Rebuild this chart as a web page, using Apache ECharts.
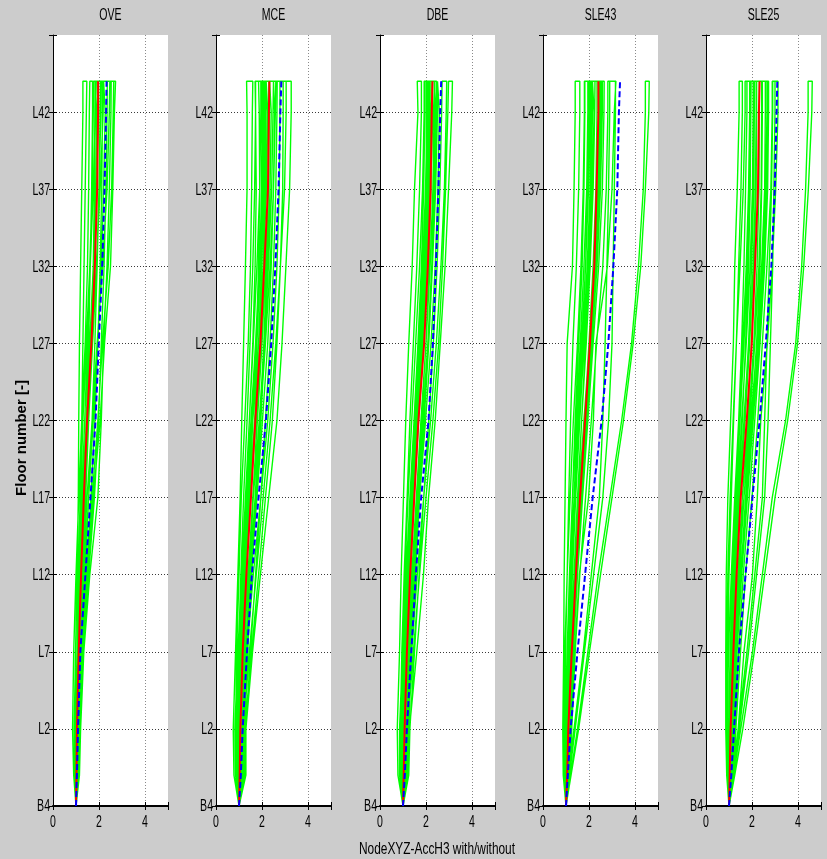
<!DOCTYPE html>
<html><head><meta charset="utf-8">
<script src="https://cdn.jsdelivr.net/npm/echarts@6/dist/echarts.min.js"></script>
<style>html,body{margin:0;padding:0;background:#cccccc}#c{width:827px;height:859px}</style>
</head><body><div id="c"></div><script>
// ---------- data ----------
const panelTitles = ['OVE', 'MCE', 'DBE', 'SLE43', 'SLE25'];
const yTickLabels = ['B4', 'L2', 'L7', 'L12', 'L17', 'L22', 'L27', 'L32', 'L37', 'L42'];
const yTickValues = [0, 5, 10, 15, 20, 25, 30, 35, 40, 45];
const xTickLabels = ['0', '2', '4'];
// floor index (0 = B4, 5 = L2, ... 47 = roof) at which the curves are sampled
const floorLevels = [0, 2, 5, 10, 15, 20, 25, 30, 35, 40, 45, 47];

const greenOVE = [
  [1.0,0.95,0.92,0.98,1.05,1.1,1.12,1.15,1.2,1.25,1.3,1.3],
  [1.0,1.0,1.0,1.05,1.1,1.18,1.25,1.3,1.35,1.4,1.45,1.47],
  [1.0,0.9,0.85,0.9,1.0,1.12,1.25,1.4,1.5,1.55,1.58,1.6],
  [1.0,1.05,1.08,1.15,1.25,1.35,1.45,1.55,1.62,1.68,1.72,1.72],
  [1.0,1.02,1.05,1.12,1.2,1.32,1.5,1.65,1.75,1.8,1.82,1.83],
  [1.0,0.98,1.0,1.1,1.22,1.38,1.55,1.7,1.8,1.86,1.9,1.9],
  [1.0,1.05,1.1,1.2,1.3,1.42,1.55,1.68,1.8,1.9,1.95,1.96],
  [1.0,1.0,1.02,1.1,1.18,1.3,1.45,1.6,1.75,1.88,1.98,2.0],
  [1.0,1.08,1.12,1.25,1.4,1.55,1.7,1.82,1.92,2.0,2.05,2.06],
  [1.0,1.1,1.18,1.3,1.45,1.65,1.82,1.95,2.05,2.12,2.15,2.16],
  [1.0,0.95,0.98,1.08,1.2,1.35,1.52,1.7,1.88,2.05,2.18,2.2],
  [1.0,1.05,1.1,1.2,1.35,1.55,1.75,1.95,2.1,2.2,2.27,2.28],
  [1.0,1.12,1.2,1.32,1.55,1.8,1.98,2.1,2.22,2.3,2.35,2.36],
  [1.0,1.02,1.08,1.18,1.3,1.48,1.7,1.92,2.15,2.35,2.45,2.47],
  [1.0,1.15,1.2,1.34,1.6,1.95,2.1,2.2,2.35,2.45,2.52,2.53],
  [1.0,1.05,1.1,1.25,1.45,1.7,1.95,2.15,2.4,2.55,2.62,2.64],
  [1.0,1.1,1.15,1.3,1.5,1.75,2.05,2.24,2.5,2.6,2.67,2.72],
  [1.0,0.92,0.95,1.05,1.12,1.2,1.3,1.45,1.6,1.7,1.75,1.76],
  [1.0,1.0,1.05,1.15,1.28,1.4,1.55,1.72,1.9,2.0,2.08,2.1],
  [1.0,0.97,1.0,1.08,1.15,1.25,1.38,1.5,1.62,1.75,1.85,1.88]
];
const greenMCE = [
  [1.0,0.78,0.75,0.85,0.95,1.05,1.12,1.2,1.28,1.35,1.35,1.33],
  [1.0,0.9,0.85,0.9,1.0,1.1,1.25,1.4,1.5,1.55,1.58,1.6],
  [1.0,1.05,1.0,1.05,1.15,1.3,1.45,1.6,1.7,1.75,1.72,1.7],
  [1.0,1.1,1.1,1.2,1.32,1.45,1.6,1.75,1.85,1.9,1.88,1.85],
  [1.0,0.95,0.95,1.05,1.2,1.38,1.55,1.75,1.9,1.98,2.0,2.0],
  [1.0,1.0,1.02,1.12,1.28,1.48,1.68,1.85,1.98,2.08,2.1,2.1],
  [1.0,1.15,1.2,1.3,1.45,1.62,1.78,1.95,2.08,2.15,2.18,2.18],
  [1.0,0.85,0.82,0.95,1.12,1.35,1.6,1.85,2.05,2.2,2.25,2.25],
  [1.0,1.05,1.1,1.22,1.4,1.6,1.8,2.0,2.15,2.28,2.32,2.33],
  [1.0,1.2,1.25,1.38,1.55,1.75,1.95,2.12,2.25,2.35,2.4,2.4],
  [1.0,1.0,1.05,1.18,1.38,1.62,1.88,2.1,2.28,2.42,2.48,2.5],
  [1.0,1.1,1.15,1.3,1.52,1.78,2.02,2.25,2.4,2.5,2.55,2.56],
  [1.0,1.25,1.3,1.5,1.72,1.95,2.15,2.35,2.5,2.6,2.65,2.66],
  [1.0,1.05,1.12,1.35,1.62,1.95,2.25,2.48,2.65,2.75,2.78,2.78],
  [1.0,1.15,1.25,1.55,1.85,2.15,2.45,2.65,2.8,2.9,2.92,2.92],
  [1.0,1.3,1.3,1.59,1.93,2.29,2.65,2.87,3.04,3.2,3.27,3.27],
  [1.0,1.1,1.2,1.45,1.75,2.05,2.35,2.6,2.8,2.98,3.05,3.05],
  [1.0,0.98,1.0,1.1,1.25,1.42,1.6,1.78,1.92,2.02,2.05,2.05],
  [1.0,0.92,0.9,1.0,1.12,1.28,1.45,1.62,1.78,1.9,1.95,1.95],
  [1.0,1.02,1.05,1.15,1.3,1.5,1.72,1.92,2.05,2.12,2.15,2.15],
  [1.0,0.88,0.88,0.98,1.08,1.2,1.35,1.48,1.6,1.68,1.72,1.72],
  [1.0,1.08,1.12,1.28,1.48,1.7,1.92,2.15,2.35,2.5,2.58,2.6],
  [1.0,0.95,0.95,1.02,1.15,1.32,1.52,1.72,1.88,2.0,2.02,2.02],
  [1.0,1.12,1.18,1.32,1.5,1.7,1.9,2.08,2.2,2.28,2.3,2.3]
];
const greenDBE = [
  [1.0,0.78,0.75,0.85,0.92,1.02,1.12,1.25,1.4,1.5,1.65,1.62],
  [1.0,0.9,0.88,0.95,1.05,1.18,1.3,1.45,1.6,1.72,1.8,1.8],
  [1.0,1.05,1.02,1.08,1.18,1.32,1.48,1.65,1.8,1.9,1.95,1.95],
  [1.0,1.1,1.12,1.2,1.32,1.48,1.65,1.82,1.95,2.05,2.08,2.08],
  [1.0,0.95,0.97,1.08,1.22,1.4,1.6,1.8,1.98,2.1,2.15,2.15],
  [1.0,1.0,1.05,1.15,1.3,1.48,1.68,1.9,2.05,2.15,2.2,2.2],
  [1.0,1.15,1.2,1.3,1.45,1.62,1.8,2.0,2.12,2.22,2.25,2.26],
  [1.0,0.85,0.85,0.98,1.12,1.32,1.55,1.8,2.02,2.2,2.3,2.3],
  [1.0,1.05,1.1,1.22,1.38,1.58,1.78,2.0,2.18,2.3,2.35,2.36],
  [1.0,1.2,1.25,1.38,1.55,1.72,1.92,2.12,2.28,2.38,2.42,2.42],
  [1.0,1.0,1.05,1.2,1.38,1.6,1.85,2.08,2.28,2.42,2.5,2.5],
  [1.0,1.1,1.15,1.3,1.5,1.72,1.98,2.22,2.4,2.52,2.58,2.58],
  [1.0,1.25,1.3,1.5,1.7,1.9,2.12,2.32,2.48,2.6,2.68,2.7],
  [1.0,1.05,1.15,1.38,1.62,1.9,2.2,2.45,2.65,2.8,2.88,2.9],
  [1.0,1.15,1.28,1.6,1.89,2.11,2.4,2.62,2.83,2.98,3.12,3.15],
  [1.0,1.12,1.2,1.45,1.72,2.0,2.3,2.55,2.72,2.85,2.95,2.98],
  [1.0,0.98,1.0,1.1,1.22,1.38,1.55,1.75,1.92,2.05,2.12,2.12],
  [1.0,0.92,0.92,1.02,1.15,1.3,1.48,1.68,1.85,1.98,2.05,2.05],
  [1.0,1.02,1.06,1.15,1.28,1.45,1.62,1.85,2.0,2.12,2.18,2.18],
  [1.0,0.88,0.9,0.98,1.08,1.22,1.38,1.55,1.72,1.85,1.92,1.92],
  [1.0,1.08,1.12,1.25,1.42,1.62,1.85,2.08,2.25,2.38,2.45,2.46],
  [1.0,0.95,0.98,1.05,1.18,1.35,1.52,1.72,1.88,2.0,2.02,2.02],
  [1.0,1.12,1.18,1.32,1.48,1.68,1.88,2.1,2.25,2.35,2.38,2.38],
  [1.0,1.0,1.02,1.12,1.25,1.42,1.62,1.82,2.0,2.15,2.25,2.28]
];
const greenSLE43 = [
  [1.0,0.88,0.86,0.9,0.92,0.96,1.0,1.05,1.28,1.35,1.4,1.4],
  [1.0,0.95,0.92,0.98,1.05,1.12,1.2,1.3,1.45,1.55,1.6,1.6],
  [1.0,1.05,1.05,1.1,1.18,1.28,1.4,1.55,1.7,1.78,1.82,1.82],
  [1.0,1.0,1.02,1.12,1.25,1.4,1.55,1.7,1.85,1.95,2.0,2.0],
  [1.0,1.1,1.15,1.25,1.38,1.52,1.68,1.85,2.0,2.1,2.15,2.15],
  [1.0,0.92,0.95,1.05,1.2,1.38,1.58,1.8,2.0,2.15,2.22,2.22],
  [1.0,1.05,1.1,1.22,1.4,1.6,1.8,2.0,2.18,2.3,2.35,2.35],
  [1.0,1.15,1.2,1.32,1.48,1.65,1.85,2.05,2.25,2.38,2.45,2.45],
  [1.0,1.0,1.05,1.18,1.35,1.55,1.78,2.02,2.28,2.45,2.52,2.52],
  [1.0,1.08,1.15,1.3,1.5,1.72,1.95,2.18,2.42,2.58,2.65,2.66],
  [1.0,1.2,1.25,1.4,1.6,1.85,2.1,2.33,2.6,2.75,2.82,2.82],
  [1.0,1.12,1.2,1.38,1.58,1.98,2.19,2.3,2.8,3.0,3.1,3.17],
  [1.0,0.9,0.9,0.95,1.05,1.18,1.32,1.5,1.65,1.75,1.8,1.8],
  [1.0,0.98,1.0,1.08,1.2,1.35,1.5,1.68,1.85,1.98,2.05,2.05],
  [1.0,1.02,1.08,1.2,1.35,1.5,1.68,1.88,2.05,2.18,2.25,2.26],
  [1.0,1.05,1.08,1.15,1.28,1.42,1.6,1.78,1.95,2.08,2.12,2.12],
  [1.0,0.95,0.98,1.05,1.15,1.28,1.45,1.62,1.78,1.9,1.95,1.95],
  [1.0,1.1,1.18,1.32,1.5,1.7,1.92,2.12,2.35,2.5,2.58,2.58],
  [1.0,1.0,1.0,1.1,1.22,1.38,1.55,1.75,1.92,2.05,2.1,2.1],
  [1.0,1.05,1.12,1.28,1.45,1.65,1.88,2.1,2.3,2.42,2.48,2.48],
  [1.0,1.2,1.5,1.95,2.4,2.91,3.42,3.85,4.15,4.36,4.45,4.45],
  [1.0,1.22,1.55,2.02,2.5,3.0,3.5,3.92,4.25,4.45,4.6,4.62],
  [1.0,1.15,1.4,1.8,2.2,2.6,2.85,3.0,3.05,3.1,3.15,3.15],
  [1.0,1.12,1.35,1.75,2.1,2.45,2.6,2.7,2.78,2.85,2.9,2.9]
];
const greenSLE25 = [
  [1.0,0.9,0.86,0.86,0.88,0.95,1.07,1.19,1.25,1.36,1.44,1.44],
  [1.0,0.95,0.9,0.95,1.0,1.1,1.2,1.32,1.42,1.52,1.58,1.58],
  [1.0,1.02,1.0,1.05,1.15,1.28,1.42,1.55,1.65,1.72,1.78,1.78],
  [1.0,1.05,1.08,1.15,1.25,1.4,1.58,1.72,1.85,1.92,1.95,1.95],
  [1.0,0.98,1.02,1.12,1.28,1.45,1.65,1.85,1.98,2.08,2.1,2.1],
  [1.0,1.1,1.15,1.25,1.4,1.58,1.8,1.98,2.1,2.18,2.2,2.2],
  [1.0,1.05,1.1,1.22,1.38,1.58,1.85,2.08,2.22,2.3,2.32,2.32],
  [1.0,1.12,1.2,1.35,1.52,1.72,1.98,2.2,2.35,2.42,2.45,2.45],
  [1.0,1.0,1.05,1.2,1.4,1.65,1.95,2.22,2.42,2.55,2.58,2.58],
  [1.0,1.15,1.25,1.42,1.62,1.88,2.12,2.35,2.55,2.68,2.72,2.72],
  [1.0,1.2,1.3,1.5,1.72,2.0,2.25,2.45,2.65,2.82,2.88,2.88],
  [1.0,1.25,1.4,1.65,2.02,2.23,2.38,2.67,2.88,3.03,3.13,3.13],
  [1.0,0.92,0.88,0.9,0.95,1.05,1.18,1.32,1.48,1.62,1.7,1.7],
  [1.0,0.98,0.98,1.05,1.15,1.3,1.48,1.65,1.8,1.9,1.95,1.96],
  [1.0,1.02,1.05,1.15,1.3,1.48,1.7,1.9,2.05,2.15,2.18,2.18],
  [1.0,1.08,1.12,1.28,1.45,1.65,1.9,2.12,2.3,2.4,2.42,2.42],
  [1.0,0.95,0.92,0.98,1.1,1.25,1.42,1.6,1.75,1.85,1.9,1.9],
  [1.0,1.05,1.12,1.3,1.5,1.75,2.02,2.28,2.48,2.6,2.65,2.65],
  [1.0,1.0,1.0,1.08,1.2,1.35,1.55,1.75,1.92,2.02,2.05,2.05],
  [1.0,1.1,1.18,1.35,1.55,1.8,2.05,2.3,2.5,2.62,2.68,2.68],
  [1.0,1.2,1.51,2.02,2.45,2.88,3.46,3.9,4.16,4.33,4.44,4.44],
  [1.0,1.25,1.6,2.1,2.55,3.0,3.55,3.98,4.25,4.45,4.6,4.62],
  [1.0,1.18,1.45,1.85,2.2,2.55,2.7,2.8,2.9,2.95,3.0,3.0],
  [1.0,1.15,1.4,1.78,2.12,2.45,2.55,2.65,2.75,2.85,2.9,2.9]
];
// red: median, blue dashed: upper statistic
const redOVE   = [1.0,1.02,1.04,1.12,1.22,1.34,1.48,1.67,1.82,1.92,1.96,1.96];
const blueOVE  = [1.0,1.04,1.09,1.19,1.41,1.63,1.85,1.99,2.14,2.24,2.31,2.33];
const redMCE   = [1.0,1.03,1.06,1.16,1.32,1.52,1.71,1.93,2.1,2.26,2.3,2.32];
const blueMCE  = [1.0,1.08,1.16,1.35,1.56,1.85,2.17,2.4,2.58,2.72,2.8,2.84];
const redDBE   = [1.0,1.03,1.07,1.17,1.31,1.49,1.67,1.92,2.08,2.2,2.25,2.28];
const blueDBE  = [1.0,1.08,1.17,1.36,1.56,1.79,2.11,2.3,2.43,2.54,2.62,2.66];
const redSLE43 = [1.0,1.05,1.1,1.25,1.43,1.61,1.83,2.04,2.23,2.33,2.41,2.41];
const blueSLE43= [1.0,1.08,1.2,1.5,1.83,2.16,2.55,2.84,3.06,3.23,3.3,3.35];
const redSLE25 = [1.0,1.03,1.07,1.19,1.33,1.51,1.77,1.99,2.13,2.26,2.30,2.33];
const blueSLE25= [1.0,1.1,1.22,1.43,1.72,2.02,2.33,2.6,2.84,2.99,3.07,3.1];

const greenSets = [greenOVE, greenMCE, greenDBE, greenSLE43, greenSLE25];
const redSets = [redOVE, redMCE, redDBE, redSLE43, redSLE25];
const blueSets = [blueOVE, blueMCE, blueDBE, blueSLE43, blueSLE25];

// ---------- chart ----------
const SANS = "'Liberation Sans', Arial, sans-serif";
const NARROW = 0.66; // horizontal squeeze to mimic the condensed lettering
const lefts = [53, 216, 380, 543, 706];
const W = 115, TOP = 35, H = 771;

function toPts(vals) { return vals.map((v, k) => [v, floorLevels[k]]); }
function zigzag(lines) {
  const out = [];
  lines.forEach((ln, i) => {
    const pts = toPts(ln);
    if (i % 2 === 1) pts.reverse();
    out.push(...pts);
  });
  return out;
}

const grid = [], xAxis = [], yAxis = [], series = [];
for (let i = 0; i < 5; i++) {
  grid.push({ left: lefts[i], top: TOP, width: W, height: H, containLabel: false,
    show: true, backgroundColor: '#ffffff', borderWidth: 0 });
  xAxis.push({
    type: 'value', gridIndex: i, min: 0, max: 5, interval: 2, position: 'bottom',
    axisLine: { show: true, onZero: false, lineStyle: { color: '#000', width: 2 } },
    axisTick: { show: true, inside: true, length: 4, lineStyle: { color: '#000' } },
    axisLabel: { show: false },
    splitLine: { show: true, showMinLine: false, showMaxLine: false,
      lineStyle: { color: '#8a8a8a', type: [1, 2], width: 1 } }
  });
  xAxis.push({
    type: 'value', gridIndex: i, min: 0, max: 5, interval: 2, position: 'top',
    axisLine: { show: false }, axisLabel: { show: false }, splitLine: { show: false },
    axisTick: { show: true, inside: true, length: 4, lineStyle: { color: '#000' } }
  });
  yAxis.push({
    type: 'value', gridIndex: i, min: 0, max: 50, interval: 5, position: 'left',
    axisLine: { show: true, onZero: false, lineStyle: { color: '#000', width: 1 } },
    axisTick: { show: true, inside: true, length: 4, lineStyle: { color: '#000' } },
    axisLabel: { show: false },
    splitLine: { show: true, showMinLine: false, showMaxLine: false,
      lineStyle: { color: '#3a3a3a', type: [1, 2], width: 1 } }
  });
  yAxis.push({
    type: 'value', gridIndex: i, min: 0, max: 50, interval: 5, position: 'right',
    axisLine: { show: false }, axisLabel: { show: false }, splitLine: { show: false },
    axisTick: { show: true, inside: true, length: 4, lineStyle: { color: '#000' } }
  });
  const xi = i * 2, yi = i * 2;
  series.push({
    type: 'line', xAxisIndex: xi, yAxisIndex: yi, data: zigzag(greenSets[i]),
    showSymbol: false, silent: true, animation: false,
    lineStyle: { color: '#00ff00', width: 1.4 }
  });
  series.push({
    type: 'line', xAxisIndex: xi, yAxisIndex: yi, data: toPts(redSets[i]),
    showSymbol: false, silent: true, animation: false,
    lineStyle: { color: '#ff0000', width: 2 }
  });
  series.push({
    type: 'line', xAxisIndex: xi, yAxisIndex: yi, data: toPts(blueSets[i]),
    showSymbol: false, silent: true, animation: false,
    lineStyle: { color: '#0000ff', width: 2, type: [6, 3] }
  });
}

const chart = echarts.init(document.getElementById('c'), null, { renderer: 'canvas' });
chart.setOption({ backgroundColor: '#cccccc', animation: false, grid, xAxis, yAxis, series });

// ---------- text (condensed lettering, positioned through the axes) ----------
function txt(x, y, text, size, align, scale, extra) {
  return Object.assign({
    type: 'text', x, y, scaleX: scale, silent: true,
    style: { text, fill: '#000', font: size + 'px ' + SANS, align, verticalAlign: 'middle' }
  }, extra || {});
}
const graphic = [];
for (let i = 0; i < 5; i++) {
  const f = { xAxisIndex: i * 2, yAxisIndex: i * 2 };
  yTickValues.forEach((v, k) => {
    const p = chart.convertToPixel(f, [0, v]);
    graphic.push(txt(p[0] - 3, p[1] + 1, yTickLabels[k], 16, 'right', NARROW));
  });
  xTickLabels.forEach((lab) => {
    const p = chart.convertToPixel(f, [Number(lab), 0]);
    graphic.push(txt(p[0], p[1] + 16, lab, 17, 'center', 0.62));
  });
  const pl = chart.convertToPixel(f, [0, 50]), pr = chart.convertToPixel(f, [5, 50]);
  graphic.push(txt((pl[0] + pr[0]) / 2, pl[1] - 19, panelTitles[i], 16, 'center', NARROW));
}
graphic.push(txt(437, 849, 'NodeXYZ-AccH3 with/without', 17, 'center', 0.7));
graphic.push({
  type: 'text', x: 22, y: 438, rotation: Math.PI / 2, silent: true,
  style: { text: 'Floor number [-]', fill: '#000', font: 'bold 15px ' + SANS, align: 'center', verticalAlign: 'middle' }
});
chart.setOption({ graphic });
</script></body></html>
